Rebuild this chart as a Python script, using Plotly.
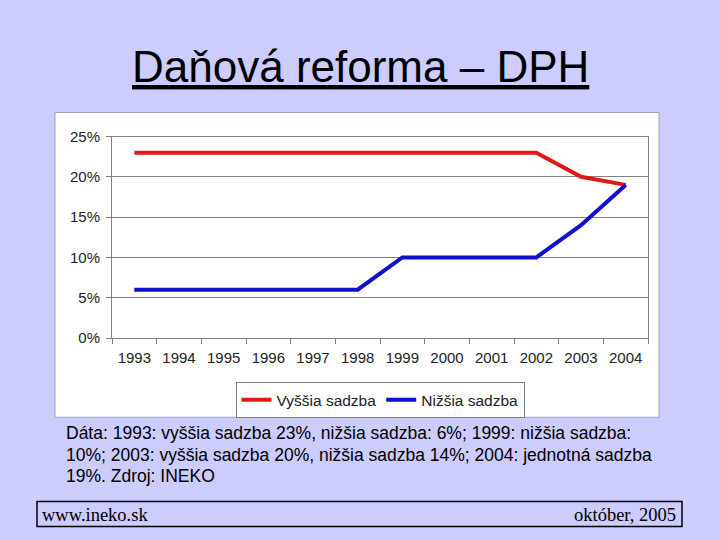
import plotly.graph_objects as go

years = ["1993", "1994", "1995", "1996", "1997", "1998", "1999", "2000", "2001", "2002", "2003", "2004"]
vyssia = [0.23, 0.23, 0.23, 0.23, 0.23, 0.23, 0.23, 0.23, 0.23, 0.23, 0.20, 0.19]
nizsia = [0.06, 0.06, 0.06, 0.06, 0.06, 0.06, 0.10, 0.10, 0.10, 0.10, 0.14, 0.19]

note_lines = [
    "Dáta: 1993: vyššia sadzba 23%, nižšia sadzba: 6%; 1999: nižšia sadzba:",
    "10%; 2003: vyššia sadzba 20%, nižšia sadzba 14%; 2004: jednotná sadzba",
    "19%. Zdroj: INEKO",
]

W, H = 720, 540
def px(x): return x / W
def py(y):
    yd = (y - 8.8) / 0.966
    return 1 - yd / H

fig = go.Figure()
fig.add_trace(go.Scatter(x=years, y=vyssia, mode="lines", name="Vyššia sadzba",
                         line=dict(color="#E01818", width=4)))
fig.add_trace(go.Scatter(x=years, y=nizsia, mode="lines", name="Nižšia sadzba",
                         line=dict(color="#1010D0", width=4)))

font = "Liberation Sans, Arial, sans-serif"
serif = "Liberation Serif, Times New Roman, serif"

annotations = [
    dict(text="<u>Daňová reforma – DPH</u>", x=px(360), y=py(66), xref="paper", yref="paper",
         xanchor="center", yanchor="middle", showarrow=False,
         font=dict(family=font, size=44, color="black")),
    dict(text="www.ineko.sk", x=px(40), y=py(513), xref="paper", yref="paper",
         xanchor="left", yanchor="middle", showarrow=False,
         font=dict(family=serif, size=18.5, color="black")),
    dict(text="október, 2005", x=px(678), y=py(513), xref="paper", yref="paper",
         xanchor="right", yanchor="middle", showarrow=False,
         font=dict(family=serif, size=18.5, color="black")),
]
for i, t in enumerate(note_lines):
    annotations.append(dict(text=t, x=px(64), y=py(432 + 21.5 * i), xref="paper", yref="paper",
                            xanchor="left", yanchor="middle", align="left", showarrow=False,
                            font=dict(family=font, size=17.5, color="black")))

fig.update_layout(
    width=W, height=H,
    margin=dict(l=0, r=0, t=0, b=0),
    paper_bgcolor="#CCCCFF",
    plot_bgcolor="#C0C0C0",
    showlegend=True,
    legend=dict(orientation="h", x=px(380), y=py(399), xanchor="center", yanchor="middle",
                bgcolor="white", bordercolor="#808080", borderwidth=1,
                font=dict(family=font, size=15.5, color="#222"),
                itemwidth=30, tracegroupgap=0),
    xaxis=dict(domain=[px(112), px(648)], type="category", range=[-0.5, 11.5],
               showgrid=False, ticks="outside", tickson="boundaries", ticklen=5,
               ticklabelstandoff=6,
               tickcolor="#808080", showline=True, linecolor="#808080", mirror=True,
               tickfont=dict(family=font, size=15, color="#222"), fixedrange=True),
    yaxis=dict(domain=[py(337), py(136)], range=[0, 0.25], dtick=0.05, tickformat=".0%",
               showgrid=True, gridcolor="#808080", gridwidth=1, zeroline=False,
               ticks="outside", ticklen=5, tickcolor="#808080", ticklabelstandoff=3,
               showline=True, linecolor="#808080", mirror=True,
               tickfont=dict(family=font, size=15, color="#222"), fixedrange=True),
    shapes=[
        dict(type="rect", xref="paper", yref="paper", x0=px(55), x1=px(659), y0=py(416), y1=py(112),
             fillcolor="white", line=dict(color="#A0A0C0", width=1), layer="below"),
        dict(type="rect", xref="paper", yref="paper", x0=px(37), x1=px(682), y0=py(525), y1=py(500),
             fillcolor="#CCCCFF", line=dict(color="black", width=1.5), layer="below"),
    ],
    annotations=annotations,
)

post = (
    "document.body.style.margin='0';"
    "document.body.style.overflow='hidden';"
)

fig.write_html("out.html", config={"displayModeBar": False}, post_script=post)
